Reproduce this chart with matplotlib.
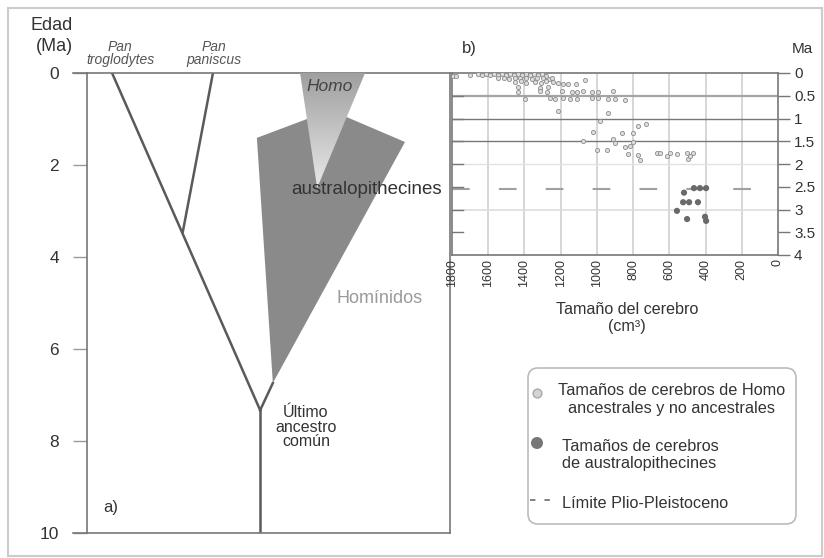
import numpy as np
import matplotlib
matplotlib.use("Agg")
import matplotlib.pyplot as plt
from matplotlib.patches import Polygon, FancyBboxPatch, Rectangle
from matplotlib.colors import LinearSegmentedColormap

plt.rcParams['font.family'] = ['Liberation Sans', 'DejaVu Sans']

W, H = 824, 558

def fx(px):
    return px / W

def fy(py):
    return 1 - py / H

# ---- datos ----
edad_ticks = [0, 2, 4, 6, 8, 10]
ma_ticks = [0, 0.5, 1, 1.5, 2, 2.5, 3, 3.5, 4]
cc_ticks = [1800, 1600, 1400, 1200, 1000, 800, 600, 400, 200, 0]

split_pan = 3.45      # Ma, P. troglodytes / P. paniscus
split_lca = 7.33      # Ma, último ancestro común
hominid_base = 6.74
homo_origin = 2.5
hominid_top = [1.41, 1.0, 0.96, 1.5]
plio_pleisto = 2.55

homo_cc = [1794, 1777, 1700,
           1656, 1632, 1610, 1588, 1566, 1544, 1522, 1500, 1478, 1456, 1434, 1412, 1390, 1368, 1346, 1324, 1302, 1280,
           1546, 1515, 1484, 1453, 1422, 1391, 1360, 1329, 1298, 1267, 1250,
           1450, 1420, 1390, 1340, 1310, 1280, 1240, 1215,
           1187, 1159, 1115, 1065,
           1435, 1314, 1270,
           1435, 1314, 1275, 1192, 1137, 1110, 1076, 1027, 994, 911,
           1397, 1259, 1231, 1187, 1148, 1110, 1027, 994, 938, 900, 845,
           1214, 938, 983, 1021, 861, 800, 773, 729, 1076, 911, 900, 845, 817, 800,
           999, 944, 828, 773, 762, 668, 651, 613, 596, 558, 502, 469, 497, 486]
homo_ma = [0.07, 0.06, 0.04,
           0.03, 0.05, 0.02, 0.04, 0.03, 0.05, 0.02, 0.04, 0.03, 0.05, 0.02, 0.04, 0.03, 0.05, 0.02, 0.04, 0.03, 0.06,
           0.12, 0.10, 0.13, 0.11, 0.12, 0.10, 0.13, 0.11, 0.12, 0.14, 0.10,
           0.20, 0.18, 0.21, 0.19, 0.22, 0.18, 0.20, 0.23,
           0.25, 0.25, 0.25, 0.15,
           0.31, 0.33, 0.31,
           0.42, 0.40, 0.41, 0.39, 0.41, 0.42, 0.40, 0.41, 0.42, 0.39,
           0.57, 0.55, 0.58, 0.56, 0.58, 0.57, 0.55, 0.56, 0.58, 0.57, 0.59,
           0.83, 0.88, 1.05, 1.30, 1.32, 1.32, 1.16, 1.12, 1.49, 1.45, 1.54, 1.62, 1.60, 1.51,
           1.69, 1.69, 1.78, 1.80, 1.91, 1.75, 1.76, 1.82, 1.76, 1.77, 1.75, 1.75, 1.88, 1.82]

austr_cc = [464, 431, 397, 519, 524, 491, 442, 558, 502, 403, 397]
austr_ma = [2.53, 2.53, 2.53, 2.63, 2.84, 2.84, 2.84, 3.03, 3.21, 3.16, 3.25]

fig = plt.figure(figsize=(W / 100, H / 100), dpi=100)
fig.patches.append(Rectangle((fx(8), fy(556)), fx(814), 548 / H, transform=fig.transFigure,
                             fill=False, ec='#cccccc', lw=1.5))

# ---- panel a) ----
ax = fig.add_axes([fx(87), fy(533), fx(363), 460 / H])
ax.set_xlim(0, 100)
ax.set_ylim(10, 0)
for s in ax.spines.values():
    s.set_color('#777777')
    s.set_linewidth(1.2)
ax.set_xticks([])
ax.set_yticks(edad_ticks)
ax.tick_params(axis='y', length=10, width=1, color='#999999', pad=10, labelsize=12.5, labelcolor='#333333')
for yy in (0, 1):
    ax.plot([-14 / 363, 0], [yy, yy], transform=ax.transAxes, color='#777777', lw=1.2, clip_on=False)

tree = '#5a5a5a'
x_trog, x_pani, x_split, x_lca, x_hom = 6.9, 34.7, 26.4, 47.7, 51.2
ax.plot([x_trog, x_lca], [0, split_lca], color=tree, lw=1.8)
ax.plot([x_pani, x_split], [0, split_pan], color=tree, lw=1.8)
ax.plot([x_lca, x_lca], [split_lca, 10], color=tree, lw=1.8)
ax.plot([x_lca, x_hom], [split_lca, hominid_base], color=tree, lw=1.8)

hom_x = [x_hom, 46.8, 60.6, 71.6, 87.6]
hom_y = [hominid_base] + hominid_top
ax.add_patch(Polygon(list(zip(hom_x, hom_y)), closed=True, fc='#8a8a8a', ec='none', zorder=2))

cone = Polygon([(58.7, 0), (76.6, 0), (63.4, homo_origin)], closed=True, fc='none', ec='none', zorder=3)
ax.add_patch(cone)
cmap = LinearSegmentedColormap.from_list('g', ['#a0a0a0', '#e8e8e8'])
grad = np.linspace(0, 1, 200).reshape(-1, 1)
im = ax.imshow(grad, extent=(58.7, 76.6, homo_origin, 0), origin='upper', cmap=cmap,
               aspect='auto', zorder=3)
im.set_clip_path(cone)
ax.set_xlim(0, 100)
ax.set_ylim(10, 0)

ax.text(66.9, 0.3, 'Homo', style='italic', fontsize=12.5, color='#444444', ha='center', va='center', zorder=4)
ax.text(56.3, 2.54, 'australopithecines', fontsize=13.5, color='#333333', ha='left', va='center', zorder=4)
ax.text(80.7, 4.9, 'Homínidos', fontsize=13, color='#9a9a9a', ha='center', va='center')
ax.text(60.3, 7.7, 'Último\nancestro\ncomún', fontsize=11.5, color='#333333', ha='center', va='center',
        linespacing=0.95)
ax.text(4.4, 9.45, 'a)', fontsize=12, color='#333333', ha='left', va='center')
ax.text(x_trog + 2.2, -0.12, 'Pan\ntroglodytes', style='italic', fontsize=10, color='#555555',
        ha='center', va='bottom', linespacing=0.95, clip_on=False)
ax.text(x_pani + 0.3, -0.12, 'Pan\npaniscus', style='italic', fontsize=10, color='#555555',
        ha='center', va='bottom', linespacing=0.95, clip_on=False)
fig.text(fx(73), fy(36), 'Edad\n(Ma)', fontsize=13, color='#333333', ha='right', va='center',
         multialignment='right', linespacing=1.25)

# ---- panel b) ----
bx = fig.add_axes([fx(452), fy(255), fx(326), 182 / H])
bx.set_xlim(1800, 0)
bx.set_ylim(4, 0)
for s in bx.spines.values():
    s.set_color('#777777')
    s.set_linewidth(1.2)
bx.set_xticks(cc_ticks)
bx.set_xticklabels([str(v) for v in cc_ticks], rotation=90, fontsize=9, color='#333333', va='top')
bx.tick_params(axis='x', length=0, pad=3)
bx.yaxis.tick_right()
bx.set_yticks(ma_ticks)
bx.set_yticklabels(['0', '0.5', '1', '1.5', '2', '2.5', '3', '3.5', '4'])
bx.tick_params(axis='y', length=8.5, width=1, color='#777777', pad=3, labelsize=11, labelcolor='#333333')
for v in cc_ticks[1:-1]:
    bx.axvline(v, color='#cfcfcf', lw=1.2, zorder=1)
for v, c, w in [(0.5, '#a5a5a5', 1.6), (1, '#777777', 1.0), (1.5, '#777777', 1.0),
                (2, '#e2e2e2', 1.0), (3, '#dddddd', 1.2)]:
    bx.axhline(v, color=c, lw=w, zorder=1)
for v in ma_ticks[1:-1]:
    bx.plot([0, 0.035], [v, v], transform=bx.get_yaxis_transform(), color='#777777', lw=1.0)
bx.axhline(plio_pleisto, color='#a0a0a0', lw=1.5, dashes=(8.5, 14), zorder=1)
bx.scatter(homo_cc, homo_ma, s=9, marker='o', fc='#dedede', ec='#8c8c8c', lw=0.6, zorder=3)
bx.scatter(austr_cc, austr_ma, s=20, marker='o', fc='#6a6a6a', ec='none', zorder=3)

fig.text(fx(469), fy(48), 'b)', fontsize=12, color='#333333', ha='center', va='center')
fig.text(fx(802), fy(49), 'Ma', fontsize=11, color='#333333', ha='center', va='center')
fig.text(fx(627), fy(318), 'Tamaño del cerebro\n(cm³)', fontsize=11.6, color='#333333',
         ha='center', va='center', linespacing=1.1)

# ---- leyenda ----
lx = fig.add_axes([fx(527), fy(525), fx(270), 158 / H])
lx.set_xlim(0, 270)
lx.set_ylim(158, 0)
lx.axis('off')
lx.add_patch(FancyBboxPatch((1, 1), 268, 156, boxstyle='round,pad=0,rounding_size=10',
                            fc='white', ec='#bbbbbb', lw=1.2))
lx.scatter([10], [26], s=40, fc='#d4d4d4', ec='#a8a8a8', lw=1.0, zorder=3)
lx.scatter([10], [76], s=75, fc='#777777', ec='none', zorder=3)
lx.plot([3, 25], [133, 133], color='#777777', lw=1.3, dashes=(3, 5))
lx.text(145, 32.5, 'Tamaños de cerebros de Homo\nancestrales y no ancestrales', fontsize=11.7,
        color='#333333', ha='center', va='center', linespacing=1.2)
lx.text(35, 88, 'Tamaños de cerebros\nde australopithecines', fontsize=11.7, color='#333333',
        ha='left', va='center', linespacing=1.2)
lx.text(35, 136, 'Límite Plio-Pleistoceno', fontsize=11.7, color='#333333', ha='left', va='center')

fig.savefig('out.png', dpi=100)
